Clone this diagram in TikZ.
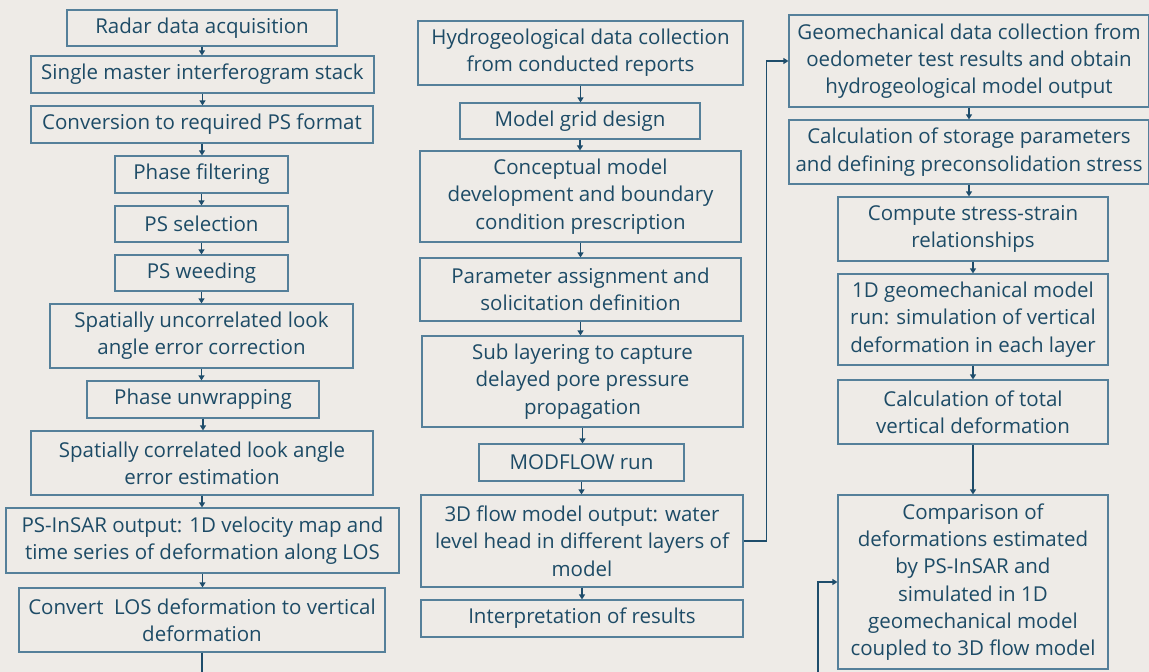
\documentclass[tikz,border=0pt]{standalone}
\usepackage{fontspec}
\setmainfont{Open Sans}
\usetikzlibrary{arrows.meta}
\definecolor{bg}{HTML}{EEEBE7}
\definecolor{ink}{HTML}{1D4B66}
\definecolor{frame}{HTML}{55809A}
\definecolor{wire}{HTML}{1E4D6B}
\tikzset{
  box/.style={draw=frame, line width=1.2pt, text=ink, align=center, inner sep=0pt,
    font=\fontsize{20.5}{27.3}\selectfont},
  arr/.style={draw=wire, line width=1.6pt, -{Triangle[length=5pt,width=6pt]}},
  wireline/.style={draw=wire, line width=1.6pt}
}
\begin{document}
\begin{tikzpicture}[x=1pt,y=-1pt]
\fill[bg] (0,0) rectangle (1149,672);
\useasboundingbox (0,0) rectangle (1149,672);
% left column
\node[box, minimum width=270, minimum height=36] (L1) at (202,28) {Radar data acquisition};
\node[box, minimum width=343, minimum height=37] (L2) at (202.5,74.5) {Single master interferogram stack};
\node[box, minimum width=342, minimum height=37] (L3) at (202,124.5) {Conversion to required PS format};
\node[box, minimum width=173, minimum height=37] (L4) at (201.5,174.5) {Phase filtering};
\node[box, minimum width=173, minimum height=36] (L5) at (201.5,224) {PS selection};
\node[box, minimum width=173, minimum height=36] (L6) at (201.5,273) {PS weeding};
\node[box, minimum width=303, minimum height=64] (L7) at (201.5,336) {Spatially uncorrelated look\\angle error correction};
\node[box, minimum width=232, minimum height=37] (L8) at (203,399.5) {Phase unwrapping};
\node[box, minimum width=342, minimum height=64] (L9) at (202,463) {Spatially correlated look angle\\error estimation};
\node[box, minimum width=393, minimum height=65] (L10) at (202.5,540.5) {PS-InSAR output: 1D velocity map and\\time series of deformation along LOS};
\node[box, minimum width=366, minimum height=64] (L11) at (202,620) {Convert\ \ LOS deformation to vertical\\deformation};
% middle column
\node[box, minimum width=325, minimum height=64] (M1) at (580.5,53) {Hydrogeological data collection\\from conducted reports};
\node[box, minimum width=240, minimum height=36] (M2) at (580,121) {Model grid design};
\node[box, minimum width=321, minimum height=91] (M3) at (580.5,196.5) {Conceptual model\\development and boundary\\condition prescription};
\node[box, minimum width=321, minimum height=63] (M4) at (580.5,289.5) {Parameter assignment and\\solicitation definition};
\node[box, minimum width=321, minimum height=91] (M5) at (582.5,381.5) {Sub layering to capture\\delayed pore pressure\\propagation};
\node[box, minimum width=205, minimum height=37] (M6) at (581.5,462.5) {MODFLOW run};
\node[box, minimum width=322, minimum height=92] (M7) at (582,541) {3D flow model output: water\\level head in different layers of\\model};
\node[box, minimum width=322, minimum height=37] (M8) at (582,618.5) {Interpretation of results};
% right column
\node[box, minimum width=360, minimum height=92] (R1) at (969,61) {Geomechanical data collection from\\oedometer test results and obtain\\hydrogeological model output};
\node[box, minimum width=360, minimum height=64] (R2) at (969,152) {Calculation of storage parameters\\and defining preconsolidation stress};
\node[box, minimum width=270, minimum height=64] (R3) at (973,229) {Compute stress-strain\\relationships};
\node[box, minimum width=270, minimum height=91] (R4) at (973,319.5) {1D geomechanical model\\run: simulation of vertical\\deformation in each layer};
\node[box, minimum width=270, minimum height=64] (R5) at (973,412) {Calculation of total\\vertical deformation};
\node[box, minimum width=270, minimum height=174] (R6) at (973,582) {Comparison of\\deformations estimated\\by PS-InSAR and\\simulated in 1D\\geomechanical model\\coupled to 3D flow model};
% free ends at the picture edge
\coordinate (Lend) at (202,672);
\coordinate (Rstart) at (818,672);
% connectors
\foreach \a/\b in {L1/L2,L2/L3,L3/L4,L4/L5,L5/L6,L6/L7,L7/L8,L8/L9,L9/L10,L10/L11,
                   M1/M2,M2/M3,M3/M4,M4/M5,M5/M6,M6/M7,M7/M8,
                   R1/R2,R2/R3,R3/R4,R4/R5,R5/R6}
  \draw[arr] (\a.south) -- (\a.south |- \b.north);
\draw[wireline] (L11.south) -- (Lend);
\draw[arr] (M7.east) -- ++(23,0) |- (R1.west);
\draw[arr] (Rstart) |- (R6.west);
\end{tikzpicture}
\end{document}
